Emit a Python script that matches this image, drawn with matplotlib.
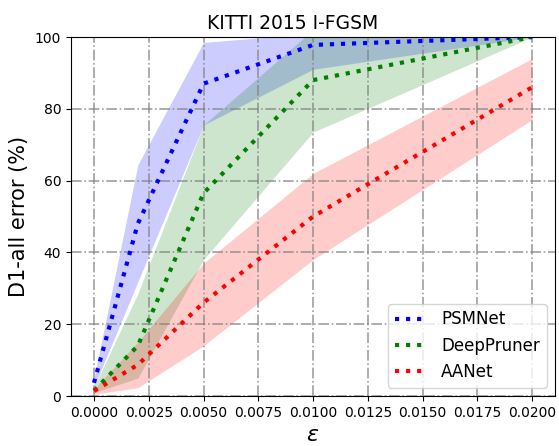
import matplotlib
matplotlib.use('Agg')
import matplotlib.pyplot as plt
import numpy as np

# epsilon values
eps = [0.0, 0.002, 0.005, 0.01, 0.02]

# mean D1-all error (%)
psm = [3.7, 48, 87, 97.8, 100]
dpr = [1.5, 14, 56.5, 88, 100]
aan = [1.4, 8.7, 26, 50, 86]

# band lower / upper
psm_lo = [2.5, 31.8, 75.5, 91, 100]
psm_hi = [5, 64.4, 98.5, 101, 100]
dpr_lo = [1, 5, 38, 73.5, 100]
dpr_hi = [2.5, 28.5, 75.5, 102, 100]
aan_lo = [0.5, 2.3, 14, 38, 77]
aan_hi = [2, 15, 37, 62, 94]

fig = plt.figure(figsize=(5.59, 4.46), dpi=100)
ax = fig.add_axes([0.127, 0.112, 0.866, 0.805])

ax.fill_between(eps, psm_lo, psm_hi, color='blue', alpha=0.2, linewidth=0)
ax.fill_between(eps, dpr_lo, dpr_hi, color='green', alpha=0.2, linewidth=0)
ax.fill_between(eps, aan_lo, aan_hi, color='red', alpha=0.2, linewidth=0)

ax.plot(eps, psm, ':', color='blue', linewidth=3, label='PSMNet')
ax.plot(eps, dpr, ':', color='green', linewidth=3, label='DeepPruner')
ax.plot(eps, aan, ':', color='red', linewidth=3, label='AANet')

ax.set_xlim(-0.00105, 0.02105)
ax.set_ylim(0, 100)
ax.set_xticks(np.arange(0, 0.0201, 0.0025))
ax.grid(True, linestyle='-.', color='gray', linewidth=1.2, alpha=0.75)

ax.set_title('KITTI 2015 I-FGSM', fontsize=13.5, x=0.457)
ax.set_ylabel('D1-all error (%)', fontsize=15)
ax.set_xlabel(r'$\epsilon$', fontsize=16)
ax.tick_params(labelsize=10)

ax.legend(loc='lower right', fontsize=12)

fig.savefig('out.png', dpi=100)
